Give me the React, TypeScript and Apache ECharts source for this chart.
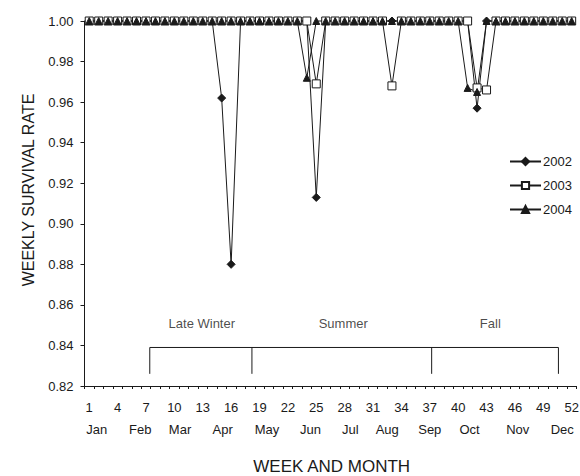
import React, { useEffect, useRef } from "react";
import * as echarts from "echarts";

const weeks = [
  1, 2, 3, 4, 5, 6, 7, 8, 9, 10, 11, 12, 13, 14, 15, 16, 17, 18, 19, 20, 21, 22, 23, 24, 25, 26,
  27, 28, 29, 30, 31, 32, 33, 34, 35, 36, 37, 38, 39, 40, 41, 42, 43, 44, 45, 46, 47, 48, 49, 50, 51, 52,
];

const s2002 = [
  1, 1, 1, 1, 1, 1, 1, 1, 1, 1, 1, 1, 1, 1, 0.962, 0.88, 1, 1, 1, 1, 1, 1, 1, 1, 0.913, 1,
  1, 1, 1, 1, 1, 1, 1, 1, 1, 1, 1, 1, 1, 1, 1, 0.957, 1, 1, 1, 1, 1, 1, 1, 1, 1, 1,
];
const s2003 = [
  1, 1, 1, 1, 1, 1, 1, 1, 1, 1, 1, 1, 1, 1, 1, 1, 1, 1, 1, 1, 1, 1, 1, 1, 0.969, 1,
  1, 1, 1, 1, 1, 1, 0.968, 1, 1, 1, 1, 1, 1, 1, 1, 0.967, 0.966, 1, 1, 1, 1, 1, 1, 1, 1, 1,
];
const s2004 = [
  1, 1, 1, 1, 1, 1, 1, 1, 1, 1, 1, 1, 1, 1, 1, 1, 1, 1, 1, 1, 1, 1, 1, 0.972, 1, 1,
  1, 1, 1, 1, 1, 1, 1, 1, 1, 1, 1, 1, 1, 1, 0.967, 0.965, 1, 1, 1, 1, 1, 1, 1, 1, 1, 1,
];

const weekLabels = [1, 4, 7, 10, 13, 16, 19, 22, 25, 28, 31, 34, 37, 40, 43, 46, 49, 52];
const monthNames = ["Jan", "Feb", "Mar", "Apr", "May", "Jun", "Jul", "Aug", "Sep", "Oct", "Nov", "Dec"];
const monthWeeks = [1.8, 6.4, 10.6, 15.1, 19.8, 24.4, 28.6, 32.5, 37.0, 41.2, 46.3, 51.0];

const seasonNames = ["Late Winter", "Summer", "Fall"];
const seasonWeeks = [12.9, 27.85, 43.4];
const seasonY = 0.851;
const bracketWeeks = [7.4, 18.2, 37.2, 50.6];
const bracketTop = 0.839;
const bracketBottom = 0.826;

const FONT = "Liberation Sans, Arial, sans-serif";
const INK = "#1a1a1a";

export default function App() {
  const ref = useRef<HTMLDivElement>(null);
  useEffect(() => {
    if (!ref.current) return;
    const chart = echarts.init(ref.current, null, { renderer: "svg" });
    const pairs = (vals: number[]) => weeks.map((w, i) => [w, vals[i]]);
    const tickVals = weeks.map((w) => w - 0.5).concat([weeks[weeks.length - 1] + 0.5]);
    const first = bracketWeeks[0];
    const last = bracketWeeks[bracketWeeks.length - 1];
    const inner = bracketWeeks.slice(1, -1);

    const mainStyle = (name: string, symbol: string, size: number, fill: string) => ({
      name,
      type: "line",
      data: null as any,
      symbol,
      symbolSize: size,
      showAllSymbol: true,
      clip: false,
      lineStyle: { color: INK, width: 1 },
      itemStyle: { color: fill, borderColor: INK, borderWidth: 1 },
      emphasis: { disabled: true },
      z: 3,
    });

    const series: any[] = [
      { ...mainStyle("2002", "diamond", 8, INK), data: pairs(s2002) },
      { ...mainStyle("2003", "rect", 8, "#ffffff"), data: pairs(s2003) },
      { ...mainStyle("2004", "triangle", 7, INK), data: pairs(s2004) },
      {
        type: "line",
        data: [
          [first, bracketBottom],
          [first, bracketTop],
          [last, bracketTop],
          [last, bracketBottom],
        ],
        symbol: "none",
        lineStyle: { color: INK, width: 1 },
        silent: true,
        z: 2,
      },
      ...inner.map((w) => ({
        type: "line",
        data: [
          [w, bracketTop],
          [w, bracketBottom],
        ],
        symbol: "none",
        lineStyle: { color: INK, width: 1 },
        silent: true,
        z: 2,
      })),
      {
        type: "scatter",
        data: seasonWeeks.map((w) => [w, seasonY]),
        symbolSize: 0,
        silent: true,
        label: {
          show: true,
          position: "inside",
          formatter: (p: any) => seasonNames[p.dataIndex],
          color: INK,
          fontFamily: FONT,
          fontSize: 13,
        },
      },
    ];

    chart.setOption({
      animation: false,
      backgroundColor: "#ffffff",
      textStyle: { fontFamily: FONT, color: INK },
      grid: { left: 84.5, right: 3.6, top: 21, bottom: 90, containLabel: false, outerBoundsMode: "none" },
      legend: {
        data: ["2002", "2003", "2004"],
        orient: "vertical",
        left: 509,
        top: 155,
        padding: 0,
        itemWidth: 31,
        itemHeight: 9,
        itemGap: 11,
        textStyle: { fontFamily: FONT, fontSize: 13, color: INK, padding: [0, 0, 0, -3] },
        selectedMode: false,
      },
      xAxis: [
        {
          type: "value",
          min: 0.5,
          max: 52.5,
          splitLine: { show: false },
          axisLine: { show: true, lineStyle: { color: INK, width: 1 } },
          axisTick: { show: true, customValues: tickVals, length: 3, lineStyle: { color: INK } },
          axisLabel: {
            customValues: weekLabels,
            margin: 15,
            fontSize: 13,
            fontFamily: FONT,
            color: INK,
            formatter: (v: number) => String(Math.round(v)),
          },
        },
        {
          type: "value",
          min: 0.5,
          max: 52.5,
          position: "bottom",
          splitLine: { show: false },
          axisLine: { show: false },
          axisTick: { show: false },
          axisLabel: {
            customValues: monthWeeks,
            margin: 37,
            fontSize: 13,
            fontFamily: FONT,
            color: INK,
            formatter: (v: number) => {
              let best = 0;
              monthWeeks.forEach((m, i) => {
                if (Math.abs(m - v) < Math.abs(monthWeeks[best] - v)) best = i;
              });
              return monthNames[best];
            },
          },
        },
      ],
      yAxis: {
        type: "value",
        min: 0.82,
        max: 1.0,
        interval: 0.02,
        splitLine: { show: false },
        axisLine: { show: true, lineStyle: { color: INK, width: 1 } },
        axisTick: { show: true, length: 4, lineStyle: { color: INK } },
        axisLabel: {
          margin: 11,
          fontSize: 13,
          fontFamily: FONT,
          color: INK,
          formatter: (v: number) => v.toFixed(2),
        },
      },
      graphic: [
        {
          type: "text",
          x: 28,
          y: 190,
          rotation: Math.PI / 2,
          style: {
            text: "WEEKLY SURVIVAL RATE",
            font: `16px ${FONT}`,
            fill: INK,
            textAlign: "center",
            textVerticalAlign: "middle",
          },
        },
        {
          type: "text",
          x: 331.7,
          y: 466.5,
          style: {
            text: "WEEK AND MONTH",
            font: `17px ${FONT}`,
            fill: INK,
            textAlign: "center",
            textVerticalAlign: "middle",
          },
        },
      ],
      series,
    });
    return () => chart.dispose();
  }, []);
  return (
    <div
      ref={ref}
      style={{ position: "fixed", left: 0, top: 0, width: 580, height: 476, background: "#fff" }}
    />
  );
}
